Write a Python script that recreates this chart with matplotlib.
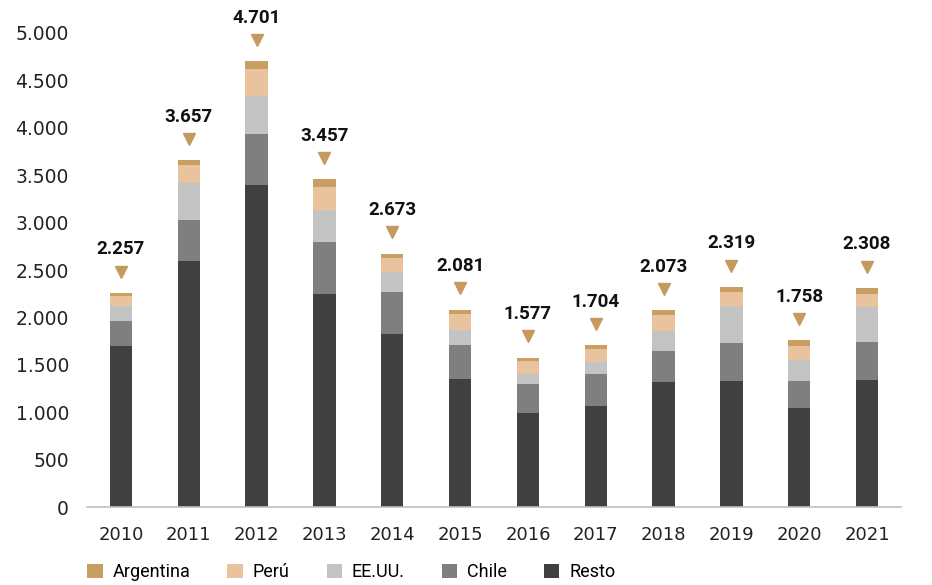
import matplotlib.pyplot as plt
import numpy as np

years = ['2010', '2011', '2012', '2013', '2014', '2015', '2016', '2017', '2018', '2019', '2020', '2021']
resto = [1700, 2590, 3400, 2245, 1825, 1355, 990, 1070, 1320, 1330, 1045, 1340]
chile = [265, 440, 530, 555, 440, 355, 310, 335, 330, 400, 285, 400]
eeuu = [155, 390, 405, 330, 215, 160, 105, 120, 205, 390, 220, 370]
peru = [105, 190, 290, 250, 150, 165, 135, 145, 170, 145, 150, 135]
argentina = [32, 47, 76, 77, 43, 46, 37, 34, 48, 54, 58, 63]
totals = [2257, 3657, 4701, 3457, 2673, 2081, 1577, 1704, 2073, 2319, 1758, 2308]

series = [('Resto', resto, '#404040'),
          ('Chile', chile, '#7f7f7f'),
          ('EE.UU.', eeuu, '#c3c3c3'),
          ('Perú', peru, '#e8c39e'),
          ('Argentina', argentina, '#c89e62')]

fig = plt.figure(figsize=(9.32, 5.85), dpi=100)
ax = fig.add_axes([0.0933, 0.1333, 0.8734, 0.8103])

x = np.arange(len(years))
bottom = np.zeros(len(years))
handles = {}
for name, vals, col in series:
    b = ax.bar(x, vals, 0.33, bottom=bottom, color=col, label=name, zorder=2)
    handles[name] = b
    bottom += np.array(vals)

for i, t in enumerate(totals):
    ax.plot(i, t + 225, marker='v', color='#c49a5f', markersize=9, clip_on=False)
    lbl = f'{t:,}'.replace(',', '.')
    ax.annotate(lbl, (i, t), xytext=(0, 25), textcoords='offset points',
                ha='center', va='bottom', fontsize=13.5, fontweight='bold',
                family=['Roboto', 'DejaVu Sans'], color='#111111',
                annotation_clip=False)

ax.set_xlim(-0.5, len(years) - 0.5)
ax.set_ylim(0, 5000)
ax.set_yticks(np.arange(0, 5001, 500))
ax.set_yticklabels([f'{v:,}'.replace(',', '.') for v in range(0, 5001, 500)], fontsize=13.5, color='#222222')
ax.set_xticks(x)
ax.set_xticklabels(years, fontsize=13, color='#222222')
ax.tick_params(axis='both', length=0)
ax.tick_params(axis='x', pad=14)
ax.tick_params(axis='y', pad=13)
for s in ['top', 'right', 'left']:
    ax.spines[s].set_visible(False)
ax.spines['bottom'].set_color('#bfbfbf')
ax.spines['bottom'].set_linewidth(1.2)

order = ['Argentina', 'Perú', 'EE.UU.', 'Chile', 'Resto']
leg = fig.legend([handles[n] for n in order], order, loc='center left',
                 bbox_to_anchor=(0.084, 0.022), ncol=5, frameon=False,
                 handlelength=0.85, handleheight=0.85, handletextpad=0.55,
                 columnspacing=2.05, borderpad=0.0,
                 prop={'family': ['Roboto', 'DejaVu Sans'], 'size': 13})

fig.savefig('out.png', dpi=100)
